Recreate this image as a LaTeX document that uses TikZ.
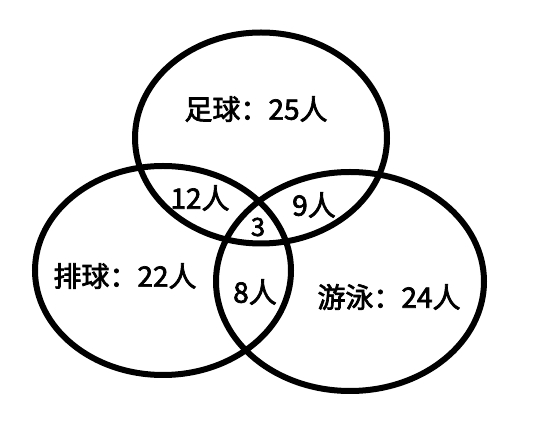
\documentclass[tikz,border=0pt]{standalone}
\usepackage{fontspec}
\newfontfamily\cjk{Noto Sans CJK SC}
\newcommand\heavytext[1]{\special{pdf:literal direct 2 Tr 0.7 w}#1\special{pdf:literal direct 0 Tr}}
\begin{document}
\begin{tikzpicture}[x=1pt,y=-1pt,
  ring/.style={line width=6pt, draw=black},
  lbl/.style={font=\cjk\fontsize{28}{32}\selectfont, inner sep=0pt, text=black},
  small/.style={font=\cjk\fontsize{25}{28}\selectfont, inner sep=0pt, text=black}]
\useasboundingbox (0,0) rectangle (541,435);
\fill[white] (0,0) rectangle (541,435);
\draw[ring] (261,138) ellipse [x radius=126, y radius=105.5];
\draw[ring] (163,270.5) ellipse [x radius=128, y radius=104.5];
\draw[ring] (350,281.5) ellipse [x radius=134, y radius=109.5];
\node[lbl] (zu) at (256,109) {\heavytext{足球：25人}};
\node[lbl] (pai) at (125,276) {\heavytext{排球：22人}};
\node[lbl] (you) at (389,297) {\heavytext{游泳：24人}};
\node[lbl] (a) at (200,198) {\heavytext{12人}};
\node[lbl] (b) at (314,205) {\heavytext{9人}};
\node[lbl] (c) at (255,292) {\heavytext{8人}};
\node[small] (d) at (258,227) {\heavytext{3}};
\end{tikzpicture}
\end{document}
